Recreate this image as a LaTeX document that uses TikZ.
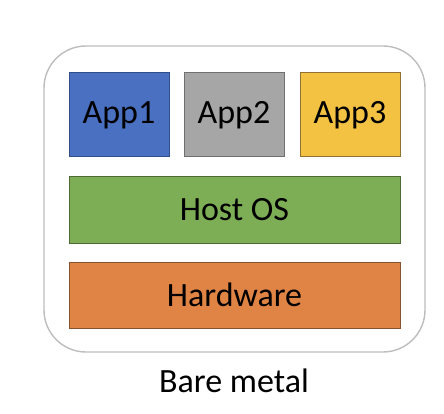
\documentclass[tikz,border=0pt]{standalone}
\usepackage{fontspec}
\setmainfont{Carlito}
\definecolor{cblue}{HTML}{4A70C1}
\definecolor{cblueD}{HTML}{2F4E8A}
\definecolor{cgray}{HTML}{A6A6A6}
\definecolor{cgrayD}{HTML}{707070}
\definecolor{cgold}{HTML}{F4C243}
\definecolor{cgoldD}{HTML}{8F7230}
\definecolor{cgreen}{HTML}{7DAE56}
\definecolor{cgreenD}{HTML}{4E6B37}
\definecolor{corange}{HTML}{E08445}
\definecolor{corangeD}{HTML}{85532E}
\definecolor{cframe}{HTML}{BDBDBD}
\tikzset{
  blk/.style={draw, line width=1pt, inner sep=0pt, font=\fontsize{34}{34}\selectfont},
}
\begin{document}
\begin{tikzpicture}[x=1pt,y=-1pt]
\useasboundingbox (0,0) rectangle (444,414);
\draw[cframe, line width=1.4pt, rounded corners=42pt] (44,46) rectangle (425,352);
\node[blk, draw=cblueD, fill=cblue, minimum width=100pt, minimum height=84pt] (app1) at (119,115) {App1};
\node[blk, draw=cgrayD, fill=cgray, minimum width=100pt, minimum height=84pt] (app2) at (234,115) {App2};
\node[blk, draw=cgoldD, fill=cgold, minimum width=100pt, minimum height=84pt] (app3) at (350,115) {App3};
\node[blk, draw=cgreenD, fill=cgreen, minimum width=331pt, minimum height=66pt] (os) at (234.5,210) {Host OS};
\node[blk, draw=corangeD, fill=corange, minimum width=331pt, minimum height=66pt] (hw) at (234.5,295) {Hardware};
\node[font=\fontsize{34}{34}\selectfont, inner sep=0pt] (lbl) at (234,381) {Bare metal};
\end{tikzpicture}
\end{document}
